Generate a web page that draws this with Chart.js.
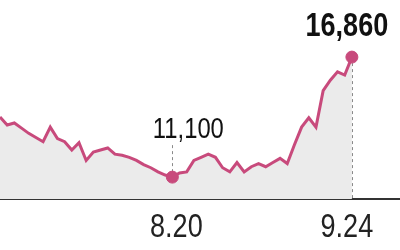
<!DOCTYPE html>
<html lang="ko">

<head>
  <meta charset="UTF-8" />
  <title>Chart</title>
  <style>
    html,
    body {
      margin: 0;
      padding: 0;
      background: #ffffff;
    }

    .wrap {
      width: 400px;
      height: 250px;
    }
  </style>
</head>

<body>
  <div class="wrap">
    <canvas id="myChart"></canvas>
  </div>
  <script src="https://cdn.jsdelivr.net/npm/chart.js@4/dist/chart.umd.min.js"></script>
  <script>
    // daily closing prices (trading days)
    const prices = [
      13980, 13600, 13700, 13450, 13200, 13000, 12800, 13500, 12950, 12800,
      12400, 12750, 11900, 12300, 12400, 12500, 12200, 12150, 12050, 11900,
      11700, 11550, 11350, 11200, 11100, 11300, 11350, 11900, 12050, 12200,
      12050, 11550, 11350, 11800, 11350, 11600, 11750, 11600, 11800, 12000,
      11750, 12650, 13500, 13950, 13500, 15250, 15750, 16150, 16000, 16860
    ];
    const days = prices.map((p, i) => i);
    const tickDays = [24, 49];
    const tickLabels = ["8.20", "9.24"];
    const callouts = [
      { day: 24, text: "11,100" },
      { day: 49, text: "16,860" }
    ];

    const fontName = '"Liberation Sans", Arial, sans-serif';

    // squeezed text, the source uses a condensed face
    function narrowText(ctx, text, x, y, font) {
      ctx.save();
      ctx.font = font;
      ctx.textAlign = "center";
      ctx.textBaseline = "alphabetic";
      ctx.translate(x, y);
      ctx.scale(0.82, 1);
      ctx.fillText(text, 0, 0);
      ctx.restore();
    }

    const calloutPlugin = {
      id: "callouts",
      beforeDatasetsDraw(chart) {
        const ctx = chart.ctx;
        const x = chart.scales.x;
        const y = chart.scales.y;
        ctx.save();
        ctx.strokeStyle = "#8a8a8a";
        ctx.lineWidth = 1;
        ctx.setLineDash([3, 3]);
        callouts.forEach((c, k) => {
          const px = Math.round(x.getPixelForValue(c.day)) + 0.5;
          const py = y.getPixelForValue(prices[c.day]);
          const top = k == 0 ? py - 32 : py;
          ctx.beginPath();
          ctx.moveTo(px, top);
          ctx.lineTo(px, chart.chartArea.bottom);
          ctx.stroke();
        });
        ctx.restore();
      },
      afterDatasetsDraw(chart) {
        const ctx = chart.ctx;
        const x = chart.scales.x;
        const y = chart.scales.y;
        ctx.fillStyle = "#111111";
        callouts.forEach((c, k) => {
          const px = x.getPixelForValue(c.day);
          const py = y.getPixelForValue(prices[c.day]);
          if (k == 0) {
            narrowText(ctx, c.text, px + 16, py - 39, "29px " + fontName);
          } else {
            narrowText(ctx, c.text, px - 5, py - 21, "bold 33px " + fontName);
          }
        });
      },
      afterDraw(chart) {
        // x tick labels
        const ctx = chart.ctx;
        const x = chart.scales.x;
        ctx.fillStyle = "#222222";
        tickDays.forEach((d, i) => {
          const shift = i == 0 ? 4 : -5;
          narrowText(ctx, tickLabels[i], x.getPixelForValue(d) + shift, chart.chartArea.bottom + 38, "33px " + fontName);
        });
      }
    };

    const ctx = document.getElementById("myChart").getContext("2d");
    const myChart = new Chart(ctx, {
      type: "line",
      data: {
        labels: days,
        datasets: [
          {
            data: prices.map((p, i) => ({ x: days[i], y: p })),
            borderColor: "#c84a7c",
            borderWidth: 3,
            backgroundColor: "#ebebeb",
            fill: "start",
            tension: 0,
            pointRadius: days.map(d => tickDays.includes(d) ? 6 : 0),
            pointBackgroundColor: "#c84a7c",
            pointBorderColor: "#c84a7c",
            pointBorderWidth: 1,
            pointHoverRadius: 0
          }
        ]
      },
      options: {
        responsive: true,
        maintainAspectRatio: false,
        animation: false,
        layout: {
          autoPadding: false,
          padding: { left: 0, right: 0, top: 0, bottom: 51 }
        },
        plugins: {
          legend: { display: false },
          tooltip: { enabled: false }
        },
        scales: {
          x: {
            type: "linear",
            min: 0,
            max: 55.7,
            grid: { display: false, drawTicks: false },
            border: { display: true, color: "#333333", width: 2 },
            afterBuildTicks(scale) {
              scale.ticks = tickDays.map(v => ({ value: v }));
            },
            ticks: { display: false }
          },
          y: {
            display: false,
            min: 10050,
            max: 19600
          }
        }
      },
      plugins: [calloutPlugin]
    });
  </script>
</body>

</html>
